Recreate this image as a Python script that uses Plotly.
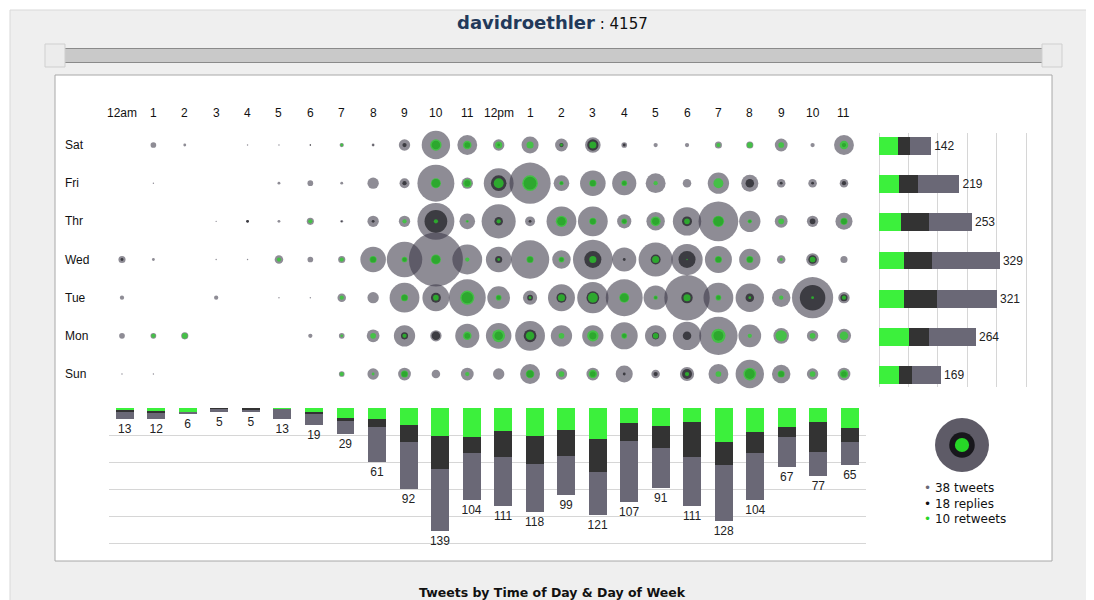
import plotly.graph_objects as go

# page body has an 8px margin; the figure fills the rest of the 1094x600 window
OFF = 8
W, H = 1094 - OFF, 600 - OFF

# ---------------- data ----------------
days = ["Sat", "Fri", "Thr", "Wed", "Tue", "Mon", "Sun"]
hour_labels = ["12am", "1", "2", "3", "4", "5", "6", "7", "8", "9", "10", "11",
               "12pm", "1", "2", "3", "4", "5", "6", "7", "8", "9", "10", "11"]

# tweets per cell (rows = days, columns = hours)
tweets = [
    [0, 4, 2, 0, 1, 1, 1, 3, 2, 8, 20, 14, 8, 12, 9, 11, 4, 3, 3, 5, 5, 9, 3, 14],
    [0, 1, 0, 0, 0, 2, 4, 2, 8, 7, 26, 8, 21, 29, 11, 18, 17, 14, 6, 15, 12, 6, 6, 6],
    [0, 0, 0, 1, 2, 2, 5, 2, 8, 8, 26, 11, 24, 7, 21, 21, 10, 13, 20, 28, 15, 9, 8, 12],
    [5, 2, 0, 1, 1, 6, 4, 5, 18, 25, 38, 21, 18, 27, 13, 28, 17, 24, 22, 19, 15, 6, 9, 5],
    [3, 0, 0, 3, 0, 1, 1, 6, 8, 21, 19, 26, 16, 10, 19, 22, 26, 17, 32, 21, 20, 13, 29, 8],
    [4, 4, 5, 0, 0, 0, 3, 4, 9, 15, 8, 17, 18, 21, 15, 15, 19, 15, 20, 27, 16, 11, 8, 10],
    [1, 1, 0, 0, 0, 0, 0, 4, 8, 9, 6, 9, 8, 14, 8, 9, 12, 6, 10, 14, 20, 13, 8, 9],
]
replies = [
    [0, 0, 0, 0, 0, 0, 1, 0, 1, 3, 6, 4, 2, 0, 3, 8, 2, 0, 0, 0, 0, 0, 0, 3],
    [0, 0, 0, 0, 0, 0, 0, 0, 0, 3, 6, 4, 11, 9, 2, 4, 3, 0, 0, 0, 6, 2, 2, 3],
    [0, 0, 0, 0, 2, 0, 0, 1, 2, 0, 16, 1, 6, 2, 6, 4, 3, 5, 7, 7, 2, 0, 4, 4],
    [2, 0, 0, 0, 0, 0, 0, 0, 4, 3, 6, 0, 5, 4, 3, 12, 2, 7, 12, 4, 4, 0, 6, 0],
    [0, 0, 0, 0, 0, 0, 0, 0, 0, 4, 7, 8, 3, 4, 7, 9, 6, 2, 8, 3, 6, 0, 18, 5],
    [0, 0, 0, 0, 0, 0, 0, 0, 0, 5, 6, 4, 6, 9, 0, 5, 3, 5, 6, 7, 0, 0, 0, 0],
    [0, 0, 0, 0, 0, 0, 0, 0, 0, 4, 0, 0, 0, 5, 0, 4, 2, 3, 7, 0, 7, 4, 0, 4],
]
retweets = [
    [0, 0, 0, 0, 0, 0, 0, 2, 0, 0, 8, 6, 5, 5, 2, 5, 0, 0, 0, 3, 4, 4, 0, 6],
    [0, 0, 0, 0, 0, 0, 0, 0, 0, 0, 7, 6, 7, 11, 3, 5, 4, 3, 0, 7, 0, 0, 0, 0],
    [0, 0, 0, 0, 0, 0, 3, 0, 0, 3, 3, 2, 3, 0, 8, 5, 4, 7, 4, 8, 3, 4, 0, 5],
    [0, 0, 0, 0, 0, 3, 0, 3, 5, 4, 7, 3, 2, 5, 4, 5, 0, 5, 1, 5, 5, 2, 4, 0],
    [0, 0, 0, 0, 0, 0, 0, 3, 0, 5, 4, 10, 4, 2, 5, 7, 7, 3, 5, 4, 2, 3, 2, 3],
    [0, 3, 4, 0, 0, 0, 0, 2, 4, 3, 0, 6, 9, 6, 4, 8, 4, 4, 0, 10, 3, 8, 4, 6],
    [0, 0, 0, 0, 0, 0, 0, 3, 2, 5, 0, 3, 0, 6, 4, 6, 0, 0, 3, 4, 9, 5, 4, 6],
]

# day totals split (retweets / replies / other)
day_retweets = [52, 54, 59, 67, 67, 81, 54]
day_replies = [31, 53, 76, 77, 91, 55, 37]
day_other = [59, 112, 118, 185, 163, 128, 78]

# hour totals split (retweets / replies / other)
hour_retweets = [3, 4, 5, 0, 0, 1, 5, 11, 13, 19, 32, 33, 26, 32, 25, 35, 17, 20, 16, 38, 27, 22, 16, 23]
hour_replies = [2, 2, 0, 1, 3, 0, 2, 4, 8, 20, 37, 18, 29, 31, 29, 38, 20, 25, 40, 27, 24, 11, 34, 15]
hour_other = [8, 6, 1, 4, 2, 12, 12, 14, 40, 53, 70, 53, 56, 55, 45, 48, 70, 46, 55, 63, 53, 34, 27, 27]

legend_values = {"tweets": 38, "replies": 18, "retweets": 10}
user_name = "davidroethler"
user_total = 4157

# ---------------- styling ----------------
K = 0.71  # bubble radius (px) per tweet
GREY_B = "rgba(58,55,70,0.82)"
BLACK_B = "rgba(20,20,24,0.95)"
GREEN_B = "#27d627"
GREEN_BAR = "#3cf03c"
BLACK_BAR = "#333333"
GREY_BAR = "#6a6876"
GRID = "#d6d6d6"
FONT = "Liberation Sans, Arial, sans-serif"


def fx(p):
    return (p - OFF) / W


def fy(p):
    return 1 - (p - OFF) / H


fig = go.Figure()

# ---------------- bubble grid ----------------
def cells(mat):
    xs, ys, ss = [], [], []
    for i in range(len(days)):
        for h in range(24):
            v = mat[i][h]
            if v > 0:
                xs.append(h)
                ys.append(i)
                ss.append(2 * K * v)
    return xs, ys, ss


for mat, col in [(tweets, GREY_B), (replies, BLACK_B), (retweets, GREEN_B)]:
    xs, ys, ss = cells(mat)
    fig.add_trace(go.Scatter(
        x=xs, y=ys, mode="markers", xaxis="x", yaxis="y",
        marker=dict(size=ss, color=col, line=dict(width=0)),
        cliponaxis=False, hoverinfo="skip"))

# ---------------- day bars (right) ----------------
day_idx = list(range(len(days)))
day_tot = [a + b + c for a, b, c in zip(day_retweets, day_replies, day_other)]
for vals, col, txt in [(day_retweets, GREEN_BAR, None), (day_replies, BLACK_BAR, None),
                       (day_other, GREY_BAR, day_tot)]:
    fig.add_trace(go.Bar(
        x=vals, y=day_idx, orientation="h", xaxis="x2", yaxis="y2",
        marker=dict(color=col, line=dict(width=0)), width=0.47,
        text=[str(t) for t in txt] if txt else None,
        textposition="outside" if txt else "none",
        textfont=dict(family=FONT, size=12, color="#222"),
        constraintext="none", cliponaxis=False, hoverinfo="skip"))

# ---------------- hour bars (bottom) ----------------
hour_idx = list(range(24))
hour_tot = [a + b + c for a, b, c in zip(hour_retweets, hour_replies, hour_other)]
for vals, col, txt in [(hour_retweets, GREEN_BAR, None), (hour_replies, BLACK_BAR, None),
                       (hour_other, GREY_BAR, hour_tot)]:
    fig.add_trace(go.Bar(
        x=hour_idx, y=vals, xaxis="x3", yaxis="y3",
        marker=dict(color=col, line=dict(width=0)), width=0.57,
        text=[str(t) for t in txt] if txt else None,
        textposition="outside" if txt else "none",
        textfont=dict(family=FONT, size=12, color="#222"),
        constraintext="none", cliponaxis=False, hoverinfo="skip"))

# ---------------- legend bubble ----------------
for key, col in [("tweets", GREY_B), ("replies", BLACK_B), ("retweets", GREEN_B)]:
    fig.add_trace(go.Scatter(
        x=[0.5], y=[0.5], mode="markers", xaxis="x4", yaxis="y4",
        marker=dict(size=2 * K * legend_values[key], color=col, line=dict(width=0)),
        cliponaxis=False, hoverinfo="skip"))

# ---------------- shapes (panels, slider) ----------------
shapes = [
    dict(type="rect", xref="paper", yref="paper", x0=fx(10), x1=fx(1100), y0=fy(10), y1=fy(605),
         fillcolor="#efefef", line=dict(color="#d9d9d9", width=1), layer="below"),
    dict(type="rect", xref="paper", yref="paper", x0=fx(60), x1=fx(1047), y0=fy(48.5), y1=fy(62.5),
         fillcolor="#c9c9c9", line=dict(color="#8a8a8a", width=1), layer="below"),
    dict(type="rect", xref="paper", yref="paper", x0=fx(45), x1=fx(65), y0=fy(44), y1=fy(67),
         fillcolor="#ececec", line=dict(color="#cfcfcf", width=1), layer="below"),
    dict(type="rect", xref="paper", yref="paper", x0=fx(1042), x1=fx(1062), y0=fy(44), y1=fy(67),
         fillcolor="#ececec", line=dict(color="#cfcfcf", width=1), layer="below"),
    dict(type="rect", xref="paper", yref="paper", x0=fx(55), x1=fx(1052), y0=fy(75), y1=fy(561),
         fillcolor="#ffffff", line=dict(color="#a8a8a8", width=1), layer="below"),
]

# ---------------- annotations ----------------
ann = []
for h, lab in enumerate(hour_labels):
    ann.append(dict(x=h, y=fy(113), xref="x", yref="paper", text=lab, showarrow=False,
                    font=dict(family=FONT, size=12, color="#111"), xanchor="center", yanchor="middle"))
for i, d in enumerate(days):
    ann.append(dict(x=fx(63), y=i, xref="paper", yref="y", text=d, showarrow=False,
                    font=dict(family=FONT, size=12, color="#111"), xanchor="left", yanchor="middle"))
ann.append(dict(x=fx(552), y=fy(22), xref="paper", yref="paper", showarrow=False,
                text=f"<b>{user_name}</b><span style='font-size:15px;color:#111'> : {user_total}</span>",
                font=dict(family="DejaVu Sans, sans-serif", size=18, color="#22395a"),
                xanchor="center", yanchor="middle"))
ann.append(dict(x=fx(552), y=fy(592), xref="paper", yref="paper", showarrow=False,
                text="<b>Tweets by Time of Day &amp; Day of Week</b>",
                font=dict(family="DejaVu Sans, sans-serif", size=12.5, color="#111"),
                xanchor="center", yanchor="middle"))
leg_rows = [("tweets", "#6a6876"), ("replies", "#111111"), ("retweets", "#27d627")]
leg_text = "<br>".join(f"<span style='color:{col}'>•</span> {legend_values[key]} {key}"
                       for key, col in leg_rows)
ann.append(dict(x=fx(922), y=fy(503), xref="paper", yref="paper", showarrow=False,
                text=leg_text, align="left",
                font=dict(family="DejaVu Sans, sans-serif", size=12, color="#111"),
                xanchor="left", yanchor="middle"))

# ---------------- layout ----------------
ROW0, ROWSTEP = 145.0, 38.17
COL0, COLSTEP = 122.0, 31.39
BCOL0, BCOLSTEP = 124.8, 31.53
DAY_PX = 0.3675   # px per tweet, day bars
HOUR_PX = 0.883   # px per tweet, hour bars

fig.update_layout(
    width=W, height=H, margin=dict(l=0, r=0, t=0, b=0),
    paper_bgcolor="#ffffff", plot_bgcolor="rgba(0,0,0,0)",
    showlegend=False, hovermode=False, barmode="stack",
    shapes=shapes, annotations=ann,
    xaxis=dict(domain=[fx(COL0 - 0.5 * COLSTEP), fx(COL0 + 23.5 * COLSTEP)], range=[-0.5, 23.5],
               visible=False, anchor="y"),
    yaxis=dict(domain=[fy(ROW0 + 6.5 * ROWSTEP), fy(ROW0 - 0.5 * ROWSTEP)], range=[6.5, -0.5],
               visible=False, anchor="x"),
    xaxis2=dict(domain=[fx(879), fx(1045)], range=[0, (1045 - 879) / DAY_PX], anchor="y2",
                showgrid=True, gridcolor=GRID, gridwidth=1, dtick=80, tick0=0,
                zeroline=True, zerolinecolor=GRID, zerolinewidth=1,
                showticklabels=False, ticks="", showline=False),
    yaxis2=dict(domain=[fy(387), fy(133)],
                range=[(387 - 146) / ROWSTEP, -(146 - 133) / ROWSTEP],
                visible=False, anchor="x2"),
    xaxis3=dict(domain=[fx(BCOL0 - 0.5 * BCOLSTEP), fx(BCOL0 + 23.5 * BCOLSTEP)], range=[-0.5, 23.5],
                visible=False, anchor="y3"),
    yaxis3=dict(domain=[fy(548), fy(408)], range=[(548 - 408) / HOUR_PX, 0], anchor="x3",
                showgrid=True, gridcolor=GRID, gridwidth=1, dtick=30.6, tick0=0,
                zeroline=False, showticklabels=False, ticks="", showline=False),
    xaxis4=dict(domain=[fx(930), fx(994)], range=[0, 1], visible=False, anchor="y4"),
    yaxis4=dict(domain=[fy(477), fy(413)], range=[0, 1], visible=False, anchor="x4"),
)

fig.write_html("out.html")
